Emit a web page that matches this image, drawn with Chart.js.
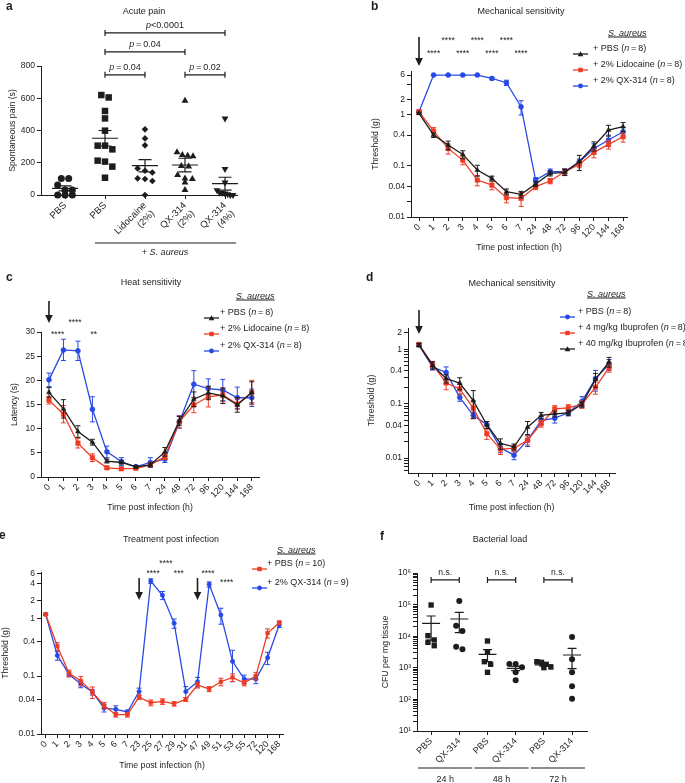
<!DOCTYPE html>
<html>
<head>
<meta charset="utf-8">
<title>S. aureus pain figure</title>
<script src="https://cdn.jsdelivr.net/npm/chart.js@4.4.1/dist/chart.umd.min.js"></script>
<style>
body{margin:0;background:#fff}
#fig{position:relative;width:685px;height:783px;overflow:hidden;font-family:"Liberation Sans",Arial,sans-serif;color:#1d1d1b}
#fig canvas{position:absolute}
.tx{position:absolute;font-size:9px;line-height:1;white-space:nowrap}
.let{font-size:12px;font-weight:bold}
.ul{font-style:italic;text-decoration:underline}
</style>
</head>
<body>
<div id="fig">
<canvas id="ca" width="340" height="260" style="left:0;top:0"></canvas>
<canvas id="cb" width="345" height="260" style="left:340px;top:0"></canvas>
<canvas id="cc" width="340" height="260" style="left:0;top:260px"></canvas>
<canvas id="cd" width="345" height="260" style="left:340px;top:260px"></canvas>
<canvas id="ce" width="340" height="263" style="left:0;top:520px"></canvas>
<canvas id="cf" width="345" height="263" style="left:340px;top:520px"></canvas>
</div>
<script>
// ---- a: acute pain (s) ----
const aCats = ['PBS', 'PBS', ['Lidocaine', '(2%)'], ['QX-314', '(2%)'], ['QX-314', '(4%)']]
const aPbsCtrl = [103, 103, 62, 31, 31, 0, 0, 0]
const aPbs = [620, 605, 521, 475, 399, 306, 306, 283, 213, 207, 176, 107]
const aLido = [407, 351, 308, 165, 150, 140, 103, 99, 87, 0]
const aQx2 = [585, 265, 248, 244, 240, 180, 176, 124, 103, 100, 78, 31]
const aQx4 = [475, 162, 78, 30, 14, 12, 10, 5, 0, 0]
const aMean = [41, 352, 182, 186, 70]
const aSem = [16, 48, 38, 42, 40]
const aTicks = [0, 200, 400, 600, 800]
const aPvals = [[1, 4, 1005, '<0.0001'], [1, 3, 887, '\u2009=\u20090.04'], [1, 2, 745, '\u2009=\u20090.04'], [3, 4, 745, '\u2009=\u20090.02']]

// ---- b: mechanical sensitivity, threshold (g) ----
const timeCats = ['0', '1', '2', '3', '4', '5', '6', '7', '24', '48', '72', '96', '120', '144', '168']
const bPbs = [1.07, 0.40, 0.256, 0.168, 0.083, 0.057, 0.0313, 0.0277, 0.0441, 0.0714, 0.0747, 0.121, 0.245, 0.503, 0.585]
const bPbsErr = [0.05, 0.04, 0.05, 0.03, 0.02, 0.006, 0.004, 0.004, 0.005, 0.008, 0.01, 0.04, 0.05, 0.12, 0.12]
const bLido = [1.15, 0.481, 0.220, 0.130, 0.0528, 0.0421, 0.0239, 0.0231, 0.0392, 0.0506, 0.077, 0.107, 0.184, 0.264, 0.372]
const bLidoErr = [0.1, 0.08, 0.05, 0.025, 0.012, 0.008, 0.005, 0.007, 0.005, 0.006, 0.01, 0.015, 0.04, 0.05, 0.08]
const bQx = [1.15, 6, 6, 6, 6, 5.16, 4.25, 1.44, 0.0528, 0.0769, 0.077, 0.121, 0.220, 0.321, 0.467]
const bQxErr = [0.05, 0.05, 0.05, 0.05, 0.05, 0.3, 0.5, 0.45, 0.006, 0.01, 0.012, 0.015, 0.05, 0.08, 0.1]
const bTicks = [0.01, 0.02, 0.04, 0.1, 0.4, 1, 2, 4, 6]
const bLabels = [0.01, 0.04, 0.1, 0.4, 1, 2, 6]
const bStars = [[2, -33, '****'], [4, -33, '****'], [6, -33, '****'], [1, -20, '****'], [3, -20, '****'], [5, -20, '****'], [7, -20, '****']]

// ---- c: heat sensitivity, latency (s) ----
const cPbs = [17.5, 14.1, 9.4, 7.2, 3.3, 3.0, 2.1, 2.5, 5.2, 11.6, 16.1, 17.4, 16.8, 14.9, 17.5]
const cPbsErr = [1.0, 1.9, 1.2, 0.6, 0.4, 0.3, 0.3, 0.4, 0.9, 0.9, 1.5, 1.4, 1.6, 1.5, 2.2]
const cLido = [15.9, 13.0, 7.0, 4.0, 1.9, 1.7, 1.8, 2.5, 4.2, 11.4, 14.9, 16.6, 17.0, 15.1, 17.5]
const cLidoErr = [0.8, 1.8, 1.0, 0.8, 0.3, 0.3, 0.2, 0.3, 0.6, 1.2, 1.6, 2.1, 1.4, 1.1, 2.5]
const cQx = [20.1, 26.3, 26.1, 14.0, 5.2, 3.2, 2.1, 3.0, 3.7, 11.4, 19.2, 18.3, 18.0, 16.4, 16.4]
const cQxErr = [1.4, 2.2, 2.0, 2.6, 1.2, 0.8, 0.3, 1.0, 0.7, 1.3, 2.8, 2.0, 2.2, 2.2, 1.8]
const cTicks = [0, 5, 10, 15, 20, 25, 30]
const cStars = [[1.8, -12, '****'], [0.6, 0, '****'], [3.1, 0, '**']]

// ---- d: mechanical sensitivity with ibuprofen ----
const dPbs = [1.2, 0.476, 0.375, 0.131, 0.061, 0.041, 0.0155, 0.0113, 0.0213, 0.049, 0.054, 0.068, 0.11, 0.29, 0.53]
const dPbsErr = [0.08, 0.06, 0.1, 0.02, 0.008, 0.006, 0.003, 0.002, 0.005, 0.008, 0.01, 0.008, 0.025, 0.12, 0.12]
const dIbu4 = [1.23, 0.53, 0.24, 0.187, 0.083, 0.028, 0.0146, 0.015, 0.0213, 0.043, 0.080, 0.084, 0.097, 0.2, 0.46]
const dIbu4Err = [0.1, 0.07, 0.06, 0.04, 0.03, 0.006, 0.003, 0.002, 0.004, 0.006, 0.012, 0.012, 0.015, 0.05, 0.08]
const dIbu40 = [1.2, 0.51, 0.29, 0.24, 0.114, 0.041, 0.0185, 0.0161, 0.037, 0.061, 0.065, 0.068, 0.097, 0.28, 0.59]
const dIbu40Err = [0.08, 0.08, 0.05, 0.06, 0.06, 0.006, 0.004, 0.002, 0.01, 0.008, 0.008, 0.008, 0.01, 0.08, 0.12]
const dTicks = [0.006, 0.007, 0.008, 0.009, 0.01, 0.02, 0.03, 0.04, 0.05, 0.06, 0.07, 0.08, 0.09, 0.1, 0.2, 0.3, 0.4, 0.5, 0.6, 0.7, 0.8, 0.9, 1, 2]
const dLabels = [0.01, 0.04, 0.1, 0.4, 1, 2]

// ---- e: treatment post infection ----
const eCats = ['0', '1', '2', '3', '4', '5', '6', '7', '23', '25', '27', '29', '31', '47', '49', '51', '53', '55', '72', '120', '168']
const ePbs = [1.17, 0.329, 0.112, 0.083, 0.053, 0.0312, 0.0216, 0.0216, 0.0433, 0.0347, 0.0365, 0.0333, 0.0395, 0.0703, 0.060, 0.080, 0.095, 0.076, 0.101, 0.555, 0.84]
const ePbsErr = [0.04, 0.05, 0.015, 0.015, 0.012, 0.004, 0.002, 0.002, 0.004, 0.004, 0.004, 0.003, 0.003, 0.008, 0.006, 0.012, 0.014, 0.008, 0.015, 0.1, 0.06]
const eQx = [1.17, 0.228, 0.108, 0.073, 0.053, 0.028, 0.0267, 0.024, 0.054, 4.4, 2.5, 0.82, 0.054, 0.080, 3.85, 1.14, 0.18, 0.089, 0.089, 0.208, 0.77]
const eQxErr = [0.04, 0.04, 0.01, 0.01, 0.006, 0.004, 0.004, 0.002, 0.008, 0.4, 0.4, 0.15, 0.012, 0.015, 0.4, 0.35, 0.1, 0.015, 0.015, 0.05, 0.08]
const eTicks = [0.01, 0.04, 0.1, 0.4, 1, 2, 4, 6]
const eStars = [[10.3, -11, '****'], [9.2, -1, '****'], [11.4, -1, '***'], [13.9, -1, '****'], [15.5, 8, '****']]

// ---- f: bacterial load (CFU per mg) ----
const fCats = ['PBS', 'QX-314', 'PBS', 'QX-314', 'PBS', 'QX-314']
const fTimes = ['24 h', '48 h', '72 h']
const fPbs24 = [97000, 10400, 7600, 6400, 5000]
const fQx24 = [130000, 21500, 14600, 4670, 3840]
const fPbs48 = [7050, 3090, 1560, 1290, 720]
const fQx48 = [1320, 1320, 1035, 720, 400]
const fPbs72 = [1560, 1490, 1290, 1060, 1010]
const fQx72 = [9450, 1850, 720, 260, 105]
const fMean = [25500, 35000, 2670, 960, 1230, 2540]
const fSem = [18000, 22000, 1100, 150, 100, 1600]

const FONT = "'Liberation Sans', Arial, sans-serif"
const RED = '#ee3b24', BLUE = '#2849e4', BLK = '#1d1d1b'
Chart.defaults.font.family = FONT
Chart.defaults.font.size = 8.5
Chart.defaults.color = BLK
Chart.defaults.animation = false
Chart.defaults.responsive = false
Chart.defaults.plugins.legend.display = false
Chart.defaults.plugins.tooltip.enabled = false

const fig = document.getElementById('fig')

function txt(html, x, y, cls, center) {
    const d = document.createElement('div')
    d.className = 'tx ' + (cls || '')
    d.innerHTML = html
    d.style.left = x + 'px'
    d.style.top = y + 'px'
    d.style.transform = center ? 'translate(-50%,-50%)' : 'translateY(-50%)'
    fig.appendChild(d)
}

function mark(x, y, color, shape) {
    const w = 15
    let s = ''
    if (shape == 'circle') s = `<circle cx="7.5" cy="4" r="2.4" fill="${color}"/>`
    if (shape == 'rect') s = `<rect x="5.3" y="1.8" width="4.4" height="4.4" fill="${color}"/>`
    if (shape == 'triangle') s = `<polygon points="7.5,1.3 10.3,6.2 4.7,6.2" fill="${color}"/>`
    const d = document.createElement('div')
    d.style.cssText = `position:absolute;left:${x}px;top:${y - 4}px;width:${w}px;height:8px`
    d.innerHTML = `<svg width="${w}" height="8"><line x1="0" y1="4" x2="${w}" y2="4" stroke="${color}" stroke-width="1.3"/>${s}</svg>`
    fig.appendChild(d)
}

function legend(tx, ty, mx, x, rows) {
    txt('S. aureus', tx, ty, 'ul')
    rows.forEach(r => {
        mark(mx, r[0], r[1], r[2])
        txt(r[3], x, r[0])
    })
}

function axisCommon() {
    return {
        border: {color: BLK, width: 1},
        grid: {drawOnChartArea: false, tickLength: 4, color: BLK, tickColor: BLK, lineWidth: 1}
    }
}

function catAxis(cats, min, max, xH, title, size) {
    return Object.assign(axisCommon(), {
        type: 'linear', min: min, max: max,
        afterBuildTicks: s => { s.ticks = cats.map((c, i) => ({value: i})) },
        afterFit: s => { s.height = xH },
        ticks: {autoSkip: false, minRotation: 45, maxRotation: 45, padding: 1, color: BLK, font: {size: size || 9}, callback: v => cats[v]},
        title: {display: !!title, text: title || '', color: BLK, font: {size: 8.7}, padding: 0}
    })
}

function valAxis(type, min, max, ticks, labels, yW, title, fmt) {
    return Object.assign(axisCommon(), {
        type: type, min: min, max: max,
        afterBuildTicks: s => { s.ticks = ticks.map(v => ({value: v})) },
        afterFit: s => { s.width = yW },
        ticks: {autoSkip: false, padding: 2, color: BLK, font: {size: 8.5},
            callback: v => labels.includes(v) ? (fmt ? fmt(v) : String(v)) : ''},
        title: {display: true, text: title, color: BLK, font: {size: 8.7}, padding: 0}
    })
}

function series(vals, err, color, style, r) {
    return {
        data: vals.map((v, i) => ({x: i, y: v})), err: err,
        borderColor: color, backgroundColor: color, pointStyle: style,
        pointRadius: r, pointBorderWidth: 0.5, borderWidth: 1.3, tension: 0, clip: false
    }
}

// error bars for every dataset carrying an err array
const errBars = {
    id: 'errBars',
    afterDatasetDraw(chart, args) {
        const ds = chart.data.datasets[args.index]
        if (!ds.err) return
        const ys = chart.scales.y, ctx = chart.ctx
        ctx.save()
        ctx.strokeStyle = ds.borderColor
        ctx.lineWidth = 1
        args.meta.data.forEach((p, i) => {
            const v = ds.data[i].y, e = ds.err[i]
            const lo = Math.max(v - e, v * 0.05)
            const y1 = ys.getPixelForValue(v + e), y2 = ys.getPixelForValue(lo)
            ctx.beginPath()
            ctx.moveTo(p.x, y1); ctx.lineTo(p.x, y2)
            ctx.moveTo(p.x - 2.5, y1); ctx.lineTo(p.x + 2.5, y1)
            ctx.moveTo(p.x - 2.5, y2); ctx.lineTo(p.x + 2.5, y2)
            ctx.stroke()
        })
        ctx.restore()
    }
}

function arrow(ctx, x, y0, y1) {
    ctx.save()
    ctx.strokeStyle = BLK; ctx.fillStyle = BLK; ctx.lineWidth = 1.6
    ctx.beginPath(); ctx.moveTo(x, y0); ctx.lineTo(x, y1 - 6); ctx.stroke()
    ctx.beginPath(); ctx.moveTo(x - 3.8, y1 - 8); ctx.lineTo(x + 3.8, y1 - 8); ctx.lineTo(x, y1); ctx.closePath(); ctx.fill()
    ctx.restore()
}

function decoPlugin(arrows, ay, stars) {
    return {
        id: 'deco',
        afterDraw(chart) {
            const ctx = chart.ctx, xs = chart.scales.x, top = chart.chartArea.top
            arrows.forEach(i => arrow(ctx, xs.getPixelForValue(i), top + ay[0], top + ay[1]))
            ctx.save()
            ctx.fillStyle = BLK
            ctx.font = '8.5px ' + FONT
            ctx.textAlign = 'center'
            stars.forEach(s => ctx.fillText(s[2], xs.getPixelForValue(s[0]), top + s[1] + 4.8))
            ctx.restore()
        }
    }
}

function richText(ctx, parts, cx, y, size) {
    let w = 0
    parts.forEach(p => { ctx.font = (p[1] ? 'italic ' : '') + size + 'px ' + FONT; w += ctx.measureText(p[0]).width })
    let x = cx - w / 2
    ctx.textAlign = 'left'
    parts.forEach(p => {
        ctx.font = (p[1] ? 'italic ' : '') + size + 'px ' + FONT
        ctx.fillText(p[0], x, y)
        x += ctx.measureText(p[0]).width
    })
}

// points at similar heights are set side by side, centred on their column
function swarm(vals, px, r, pxPerX, maxW) {
    const idx = vals.map((v, i) => i).sort((a, b) => vals[b] - vals[a])
    const off = new Array(vals.length).fill(0)
    let bin = []
    const flush = () => {
        const step = bin.length > 1 ? Math.min(2.1 * r, maxW / (bin.length - 1)) : 0
        bin.forEach((k, j) => { off[k] = (j - (bin.length - 1) / 2) * step / pxPerX })
        bin = []
    }
    idx.forEach(k => {
        if (bin.length && Math.abs(px(vals[bin[0]]) - px(vals[k])) > 1.8 * r) flush()
        bin.push(k)
    })
    flush()
    return off
}

function meanSem(ctx, xs, ys, means, sems, half, cap) {
    ctx.save()
    ctx.strokeStyle = BLK
    ctx.lineWidth = 1.2
    means.forEach((m, i) => {
        const x = xs.getPixelForValue(i)
        const y = ys.getPixelForValue(m), y1 = ys.getPixelForValue(m + sems[i]), y2 = ys.getPixelForValue(Math.max(m - sems[i], ys.min))
        ctx.beginPath()
        ctx.moveTo(x - half, y); ctx.lineTo(x + half, y)
        ctx.moveTo(x, y1); ctx.lineTo(x, y2)
        ctx.moveTo(x - cap, y1); ctx.lineTo(x + cap, y1)
        ctx.moveTo(x - cap, y2); ctx.lineTo(x + cap, y2)
        ctx.stroke()
    })
    ctx.restore()
}

function bracket(ctx, x1, x2, y, h) {
    ctx.beginPath()
    ctx.moveTo(x1, y); ctx.lineTo(x2, y)
    ctx.moveTo(x1, y - h); ctx.lineTo(x1, y + h)
    ctx.moveTo(x2, y - h); ctx.lineTo(x2, y + h)
    ctx.stroke()
}

// ================= panel a =================
const aGroups = [aPbsCtrl, aPbs, aLido, aQx2, aQx4]
const aStyles = [['circle', 3.5, 0], ['rect', 4.6, 0], ['rectRot', 3.3, 0], ['triangle', 4, 0], ['triangle', 4, 180]]
const aXmin = -0.6, aXmax = 4.3
const aPxX = (237 - 41) / (aXmax - aXmin)
new Chart(document.getElementById('ca'), {
    type: 'scatter',
    data: {
        datasets: aGroups.map((g, gi) => {
            const off = swarm(g, v => v * 129 / 800, 3.5, aPxX, 16)
            return {
                data: g.map((v, i) => ({x: gi + off[i], y: v})),
                pointStyle: aStyles[gi][0], pointRadius: aStyles[gi][1], rotation: aStyles[gi][2],
                backgroundColor: BLK, borderColor: BLK, borderWidth: 0, clip: false
            }
        })
    },
    options: {
        layout: {padding: {left: 7, top: 66, right: 103, bottom: 0}},
        scales: {
            x: catAxis(aCats, aXmin, aXmax, 65, null, 9.5),
            y: valAxis('linear', 0, 800, aTicks, aTicks, 34, 'Spontaneous pain (s)')
        }
    },
    plugins: [{
        id: 'aDeco',
        afterDatasetsDraw(chart) {
            const ctx = chart.ctx, xs = chart.scales.x, ys = chart.scales.y
            meanSem(ctx, xs, ys, aMean, aSem, 13, 6.5)
            ctx.save()
            ctx.strokeStyle = BLK; ctx.fillStyle = BLK; ctx.lineWidth = 1.2
            aPvals.forEach(p => {
                const x1 = xs.getPixelForValue(p[0]), x2 = xs.getPixelForValue(p[1]), y = ys.getPixelForValue(p[2])
                bracket(ctx, x1, x2, y, 3)
                richText(ctx, [['p', true], [p[3], false]], (x1 + x2) / 2, y - 5, 9)
            })
            const yb = chart.chartArea.bottom + 48
            ctx.beginPath()
            ctx.moveTo(xs.getPixelForValue(1) - 10, yb); ctx.lineTo(xs.getPixelForValue(4) + 11, yb)
            ctx.stroke()
            richText(ctx, [['+ ', false], ['S. aureus', true]], (xs.getPixelForValue(1) + xs.getPixelForValue(4)) / 2, yb + 12, 9)
            ctx.restore()
        }
    }]
})

// ================= panel b =================
new Chart(document.getElementById('cb'), {
    type: 'line',
    data: {datasets: [
        series(bPbs, bPbsErr, BLK, 'triangle', 2.8),
        series(bLido, bLidoErr, RED, 'rect', 3.2),
        series(bQx, bQxErr, BLUE, 'circle', 2.5)
    ]},
    options: {
        layout: {padding: {left: 30, top: 71, right: 58, bottom: 7}},
        scales: {
            x: catAxis(timeCats, -0.55, 14.27, 36, 'Time post infection (h)'),
            y: valAxis('logarithmic', 0.01, 7.2, bTicks, bLabels, 41, 'Threshold (g)')
        }
    },
    plugins: [errBars, decoPlugin([0], [-34, -5], bStars)]
})

// ================= panel c =================
new Chart(document.getElementById('cc'), {
    type: 'line',
    data: {datasets: [
        series(cPbs, cPbsErr, BLK, 'triangle', 2.8),
        series(cLido, cLidoErr, RED, 'rect', 3.2),
        series(cQx, cQxErr, BLUE, 'circle', 2.5)
    ]},
    options: {
        layout: {padding: {left: 9, top: 72, right: 81, bottom: 7}},
        scales: {
            x: catAxis(timeCats, -0.55, 14.5, 36, 'Time post infection (h)'),
            y: valAxis('linear', 0, 30, cTicks, cTicks, 32, 'Latency (s)')
        }
    },
    plugins: [errBars, decoPlugin([0], [-31, -9], cStars)]
})

// ================= panel d =================
new Chart(document.getElementById('cd'), {
    type: 'line',
    data: {datasets: [
        series(dIbu40, dIbu40Err, BLK, 'triangle', 2.8),
        series(dIbu4, dIbu4Err, RED, 'rect', 3.2),
        series(dPbs, dPbsErr, BLUE, 'circle', 2.5)
    ]},
    options: {
        layout: {padding: {left: 26, top: 68, right: 70, bottom: 7}},
        scales: {
            x: catAxis(timeCats, -0.81, 14.44, 40, 'Time post infection (h)'),
            y: valAxis('logarithmic', 0.0053, 2.47, dTicks, dLabels, 42, 'Threshold (g)')
        }
    },
    plugins: [errBars, decoPlugin([0], [-18, 6], [])]
})

// ================= panel e =================
new Chart(document.getElementById('ce'), {
    type: 'line',
    data: {datasets: [
        series(ePbs, ePbsErr, RED, 'rect', 2.6),
        series(eQx, eQxErr, BLUE, 'circle', 2.2)
    ]},
    options: {
        layout: {padding: {left: 0, top: 52, right: 57, bottom: 12}},
        scales: {
            x: catAxis(eCats, -0.4, 20.32, 37, 'Time post infection (h)'),
            y: valAxis('logarithmic', 0.01, 6.3, eTicks, eTicks, 41, 'Threshold (g)')
        }
    },
    plugins: [errBars, decoPlugin([8, 13], [6, 28], eStars)]
})

// ================= panel f =================
const fGroups = [fPbs24, fQx24, fPbs48, fQx48, fPbs72, fQx72]
const fXmin = -0.5, fXmax = 5.53
const fPxX = (587 - 417) / (fXmax - fXmin)
const fTicks = []
for (let e = 1; e <= 5; e++) for (let m = 1; m <= 9; m++) fTicks.push(m * Math.pow(10, e))
fTicks.push(1e6)
const fLabels = [10, 100, 1000, 10000, 100000, 1000000]
const sup = ['\u2070', '\u00b9', '\u00b2', '\u00b3', '\u2074', '\u2075', '\u2076']
new Chart(document.getElementById('cf'), {
    type: 'scatter',
    data: {
        datasets: fGroups.map((g, gi) => {
            const off = swarm(g, v => Math.log10(v) * 31.6, 3, fPxX, 14)
            return {
                data: g.map((v, i) => ({x: gi + off[i], y: v})),
                pointStyle: gi % 2 ? 'circle' : 'rect', pointRadius: gi % 2 ? 3 : 3.8,
                backgroundColor: BLK, borderColor: BLK, borderWidth: 0, clip: false
            }
        })
    },
    options: {
        layout: {padding: {left: 40, top: 53, right: 98, bottom: 0}},
        scales: {
            x: catAxis(fCats, fXmin, fXmax, 52, null),
            y: valAxis('logarithmic', 10, 1e6, fTicks, fLabels, 37, 'CFU per mg tissue', v => '10' + sup[Math.round(Math.log10(v))])
        }
    },
    plugins: [{
        id: 'fDeco',
        afterDatasetsDraw(chart) {
            const ctx = chart.ctx, xs = chart.scales.x, ys = chart.scales.y
            meanSem(ctx, xs, ys, fMean, fSem, 9, 4.5)
            ctx.save()
            ctx.strokeStyle = BLK; ctx.fillStyle = BLK; ctx.lineWidth = 1.2
            const yb = chart.chartArea.bottom + 37
            fTimes.forEach((t, k) => {
                const x1 = xs.getPixelForValue(2 * k), x2 = xs.getPixelForValue(2 * k + 1)
                const y = ys.getPixelForValue(Math.pow(10, 5.78))
                bracket(ctx, x1, x2, y, 3)
                richText(ctx, [['n.s.', false]], (x1 + x2) / 2, y - 5, 8.5)
                ctx.beginPath()
                ctx.moveTo(x1 - 13, yb); ctx.lineTo(x2 + 13, yb)
                ctx.stroke()
                richText(ctx, [[t, false]], (x1 + x2) / 2, yb + 14, 9)
            })
            ctx.restore()
        }
    }]
})

// ---- letters, titles, legends ----
txt('a', 6, 6, 'let'); txt('b', 371, 6, 'let'); txt('c', 6, 277, 'let')
txt('d', 366, 277, 'let'); txt('e', -1, 535, 'let'); txt('f', 380, 536, 'let')
txt('Acute pain', 144, 11, '', true)
txt('Mechanical sensitivity', 521, 11, '', true)
txt('Heat sensitivity', 151, 282, '', true)
txt('Mechanical sensitivity', 512, 283, '', true)
txt('Treatment post infection', 171, 539, '', true)
txt('Bacterial load', 500, 539, '', true)

legend(608, 33, 573, 593, [
    [48, BLK, 'triangle', '+ PBS (<i>n</i>\u2009=\u20098)'],
    [64, RED, 'rect', '+ 2% Lidocaine (<i>n</i>\u2009=\u20098)'],
    [80, BLUE, 'circle', '+ 2% QX-314 (<i>n</i>\u2009=\u20098)']
])
legend(236, 296, 204, 220, [
    [312, BLK, 'triangle', '+ PBS (<i>n</i>\u2009=\u20098)'],
    [328, RED, 'rect', '+ 2% Lidocaine (<i>n</i>\u2009=\u20098)'],
    [345, BLUE, 'circle', '+ 2% QX-314 (<i>n</i>\u2009=\u20098)']
])
legend(587, 294, 560, 578, [
    [311, BLUE, 'circle', '+ PBS (<i>n</i>\u2009=\u20098)'],
    [327, RED, 'rect', '+ 4 mg/kg Ibuprofen (<i>n</i>\u2009=\u20098)'],
    [343, BLK, 'triangle', '+ 40 mg/kg Ibuprofen (<i>n</i>\u2009=\u20098)']
])
legend(277, 550, 252, 267, [
    [563, RED, 'rect', '+ PBS (<i>n</i>\u2009=\u200910)'],
    [582, BLUE, 'circle', '+ 2% QX-314 (<i>n</i>\u2009=\u20099)']
])
</script>
</body>
</html>
